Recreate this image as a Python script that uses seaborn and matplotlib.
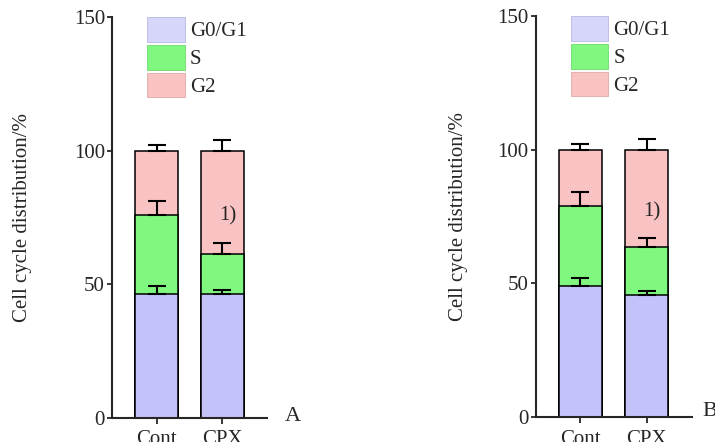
import numpy as np
import pandas as pd
import matplotlib
matplotlib.use("Agg")
import matplotlib.pyplot as plt
import matplotlib.patches as mpatches
import seaborn as sns

# ---- data ----
categories = ["Cont", "CPX"]
phases = ["G0/G1", "S", "G2"]

a_g0g1 = [46.5, 46.5]
a_s = [29.5, 15.0]
a_g2 = [24.0, 38.5]
a_g0g1_err = [3.0, 1.5]
a_s_err = [5.0, 4.0]
a_g2_err = [2.0, 4.0]

b_g0g1 = [49.0, 45.5]
b_s = [30.0, 18.0]
b_g2 = [21.0, 36.5]
b_g0g1_err = [3.0, 1.6]
b_s_err = [5.0, 3.4]
b_g2_err = [2.0, 4.0]

panel_letters = ["A", "B"]
yticks = [0, 50, 100, 150]
ylabel = "Cell cycle distribution/%"
annot = "1)"

# ---- style ----
sns.set_style("ticks")
plt.rcParams["font.family"] = ["Liberation Serif", "DejaVu Serif"]
plt.rcParams["axes.linewidth"] = 1.5

c_g0g1 = "#c3c3fa"
c_s = "#80f880"
c_g2 = "#fac3c3"
c_g0g1_leg = "#d6d6fa"
FS = 15

fig = plt.figure(figsize=(7.15, 4.42), dpi=100)
W, H = 715, 442

def axes_px(left, right, bottom_px, top_px):
    return fig.add_axes([left / W, (H - bottom_px) / H, (right - left) / W, (bottom_px - top_px) / H])

ax_a = axes_px(112, 267, 418, 17)
ax_b = axes_px(535.5, 691.5, 417, 16)

panels = [
    (ax_a, a_g0g1, a_s, a_g2, a_g0g1_err, a_s_err, a_g2_err, panel_letters[0], 75.5, 30, 18, 0.004),
    (ax_b, b_g0g1, b_s, b_g2, b_g0g1_err, b_s_err, b_g2_err, panel_letters[1], 76.7, 21, 11, 0.014),
]

for ax, g0, s, g2, e0, es, e2, letter, ann_y, lpad, letter_dx, letter_y in panels:
    top1 = np.array(g0)
    top2 = top1 + np.array(s)
    top3 = top2 + np.array(g2)
    df = pd.DataFrame({"cat": categories, "t1": top1, "t2": top2, "t3": top3})
    for col, colr in [("t3", c_g2), ("t2", c_s), ("t1", c_g0g1)]:
        sns.barplot(data=df, x="cat", y=col, color=colr, saturation=1, width=0.65,
                    edgecolor="black", linewidth=1.1, errorbar=None, ax=ax, zorder=1)
    xpos = np.arange(len(categories))
    for tops, err in [(top1, e0), (top2, es), (top3, e2)]:
        ax.errorbar(xpos, tops, yerr=[np.zeros(len(err)), err], fmt="none",
                    ecolor="black", elinewidth=1.5, capsize=6.5, capthick=1.5, zorder=3)
    ax.set_xlim(-0.68, 1.68)
    ax.set_ylim(0, 150)
    ax.set_yticks(yticks)
    ax.set_xlabel("")
    ax.set_ylabel(ylabel, fontsize=FS, labelpad=lpad)
    ax.tick_params(axis="y", labelsize=FS, length=3.5, width=1.3, pad=1.5)
    ax.tick_params(axis="x", labelsize=FS, length=4, width=1.3, pad=5)
    sns.despine(ax=ax)
    ax.text(1.08, ann_y, annot, fontsize=FS, ha="center", va="center", zorder=4)
    ax.text(1.0 + letter_dx / 156, letter_y, letter, transform=ax.transAxes, fontsize=FS + 1,
            ha="left", va="center", clip_on=False)
    handles = [mpatches.Patch(facecolor=c_g0g1_leg, edgecolor="#b8b8e0", linewidth=0.6),
               mpatches.Patch(facecolor=c_s, edgecolor="#70d870", linewidth=0.6),
               mpatches.Patch(facecolor=c_g2, edgecolor="#e0a8a8", linewidth=0.6)]
    ax.legend(handles, phases, loc="upper left", bbox_to_anchor=(35 / 155, 1.0),
              frameon=False, fontsize=FS, handlelength=1.8, handleheight=1.45,
              labelspacing=0.15, handletextpad=0.25, borderpad=0, borderaxespad=0)

fig.savefig("out.png", dpi=100)
